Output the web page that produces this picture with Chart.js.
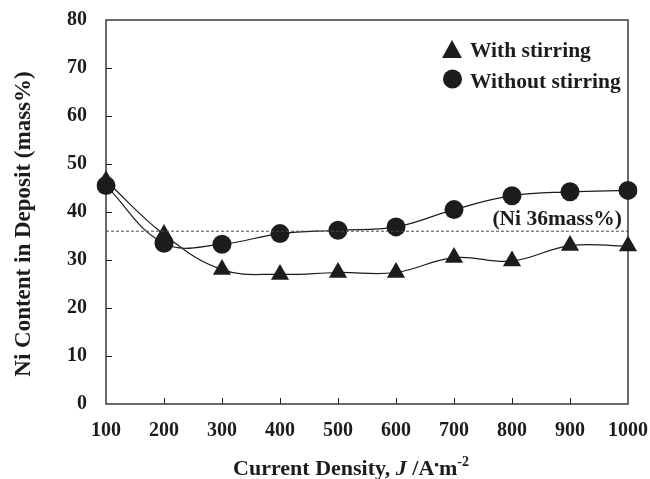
<!DOCTYPE html>
<html>
<head>
<meta charset="utf-8">
<title>Ni Content in Deposit</title>
<script src="https://cdn.jsdelivr.net/npm/chart.js@4.4.1/dist/chart.umd.min.js"></script>
<style>
  html, body { margin: 0; padding: 0; background: #fff; }
  #wrap { width: 650px; height: 479px; position: relative; }
</style>
</head>
<body>
<div id="wrap"><canvas id="ni-chart"></canvas></div>
<script>
// current density J (A/m2) and Ni content (mass%)
const currentDensity = [100, 200, 300, 400, 500, 600, 700, 800, 900, 1000];
const withStirring = [46.5, 35.3, 28.0, 27.0, 27.4, 27.4, 30.5, 29.8, 33.0, 32.9];
const withoutStirring = [45.5, 33.5, 33.3, 35.5, 36.2, 36.9, 40.5, 43.4, 44.2, 44.5];
const niTarget = 36;
const yTicks = [0, 10, 20, 30, 40, 50, 60, 70, 80];

const serif = '"Liberation Serif", "Times New Roman", serif';
const ink = '#1c1c1c';

// keep tick labels from pushing the plot area inward
function noOverflow(scale) {
  scale.paddingLeft = 0;
  scale.paddingRight = 0;
  scale.paddingTop = 0;
  scale.paddingBottom = 0;
}

// inward tick marks, the frame, the legend, the 36% note and the axis titles
const decorations = {
  id: 'decorations',
  afterDraw(chart) {
    const { ctx, chartArea: a, scales } = chart;
    ctx.save();

    ctx.strokeStyle = ink;
    ctx.lineWidth = 1.3;
    ctx.strokeRect(a.left, a.top, a.right - a.left, a.bottom - a.top);

    ctx.lineWidth = 1;
    ctx.beginPath();
    yTicks.slice(1, -1).forEach(v => {
      const y = Math.round(scales.y.getPixelForValue(v)) + 0.5;
      ctx.moveTo(a.left, y);
      ctx.lineTo(a.left + 6, y);
    });
    currentDensity.slice(1, -1).forEach((_, i) => {
      const x = Math.round(scales.x.getPixelForValue(i + 1)) + 0.5;
      ctx.moveTo(x, a.bottom);
      ctx.lineTo(x, a.bottom - 6);
    });
    ctx.stroke();

    // legend
    ctx.fillStyle = ink;
    const lx = a.right - 176;
    ctx.beginPath();
    ctx.moveTo(lx, a.top + 20);
    ctx.lineTo(lx + 10, a.top + 38);
    ctx.lineTo(lx - 10, a.top + 38);
    ctx.closePath();
    ctx.fill();
    ctx.beginPath();
    ctx.arc(lx + 0.5, a.top + 59, 9.5, 0, Math.PI * 2);
    ctx.fill();

    ctx.font = 'bold 21.5px ' + serif;
    ctx.textAlign = 'left';
    ctx.textBaseline = 'alphabetic';
    ctx.fillText('With stirring', a.right - 158, a.top + 37);
    ctx.fillText('Without stirring', a.right - 158, a.top + 68);

    // note above the dashed reference line
    ctx.textAlign = 'right';
    ctx.fillText('(Ni 36mass%)', a.right - 6, scales.y.getPixelForValue(niTarget) - 6);

    // y axis title
    ctx.save();
    ctx.translate(24, 224);
    ctx.rotate(-Math.PI / 2);
    ctx.textAlign = 'center';
    ctx.textBaseline = 'middle';
    ctx.font = 'bold 23px ' + serif;
    ctx.fillText('Ni Content in Deposit (mass%)', 0, 0);
    ctx.restore();

    // x axis title with italic J and superscript
    const parts = [
      { t: 'Current Density, ', f: 'bold 22px ' + serif, dy: 0 },
      { t: 'J', f: 'italic bold 22px ' + serif, dy: 0 },
      { t: ' /A', f: 'bold 22px ' + serif, dy: 0 },
      { t: '\u25AA', f: 'bold 13px ' + serif, dy: -6 },
      { t: 'm', f: 'bold 22px ' + serif, dy: 0 },
      { t: '-2', f: 'bold 14px ' + serif, dy: -9 }
    ];
    let total = 0;
    parts.forEach(p => { ctx.font = p.f; p.w = ctx.measureText(p.t).width; total += p.w; });
    let x = 351 - total / 2;
    const base = chart.height - 4;
    ctx.textAlign = 'left';
    parts.forEach(p => {
      ctx.font = p.f;
      ctx.fillText(p.t, x, base + p.dy);
      x += p.w;
    });

    ctx.restore();
  }
};

new Chart(document.getElementById('ni-chart'), {
  type: 'line',
  data: {
    labels: currentDensity.map(String),
    datasets: [
      {
        label: 'Ni 36mass%',
        data: currentDensity.map(() => niTarget),
        borderColor: '#4a4a4a',
        borderWidth: 1,
        borderDash: [3, 2],
        pointRadius: 0,
        tension: 0
      },
      {
        label: 'With stirring',
        data: withStirring,
        borderColor: ink,
        borderWidth: 1.2,
        pointStyle: 'triangle',
        pointRadius: 10.5,
        pointBackgroundColor: ink,
        pointBorderColor: ink,
        pointBorderWidth: 0,
        tension: 0.4
      },
      {
        label: 'Without stirring',
        data: withoutStirring,
        borderColor: ink,
        borderWidth: 1.2,
        pointStyle: 'circle',
        pointRadius: 9.5,
        pointBackgroundColor: ink,
        pointBorderColor: ink,
        pointBorderWidth: 0,
        tension: 0.4
      }
    ]
  },
  options: {
    responsive: true,
    maintainAspectRatio: false,
    animation: false,
    layout: { padding: { top: 20, right: 22, left: 0, bottom: 0 } },
    plugins: {
      legend: { display: false },
      tooltip: { enabled: false }
    },
    scales: {
      x: {
        offset: false,
        grid: { display: false, drawTicks: false },
        border: { display: false },
        ticks: {
          color: ink,
          font: { family: serif, size: 20, weight: 'bold' },
          padding: 15,
          maxRotation: 0,
          autoSkip: false
        },
        afterFit: scale => { scale.height = 75; noOverflow(scale); }
      },
      y: {
        min: 0,
        max: 80,
        afterBuildTicks: scale => { scale.ticks = yTicks.map(v => ({ value: v })); },
        grid: { display: false, drawTicks: false },
        border: { display: false },
        ticks: {
          color: ink,
          font: { family: serif, size: 20, weight: 'bold' },
          padding: 19
        },
        afterFit: scale => { scale.width = 106; noOverflow(scale); }
      }
    }
  },
  plugins: [decorations]
});
</script>
</body>
</html>
